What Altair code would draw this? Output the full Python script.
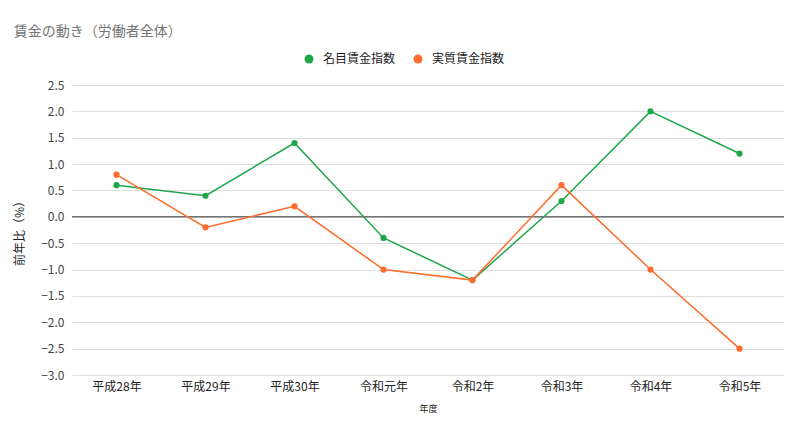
import altair as alt
import pandas as pd

years = ["平成28年", "平成29年", "平成30年", "令和元年", "令和2年", "令和3年", "令和4年", "令和5年"]
nominal = [0.6, 0.4, 1.4, -0.4, -1.2, 0.3, 2.0, 1.2]
real = [0.8, -0.2, 0.2, -1.0, -1.2, 0.6, -1.0, -2.5]
series_names = ["名目賃金指数", "実質賃金指数"]
colors = ["#1fa64b", "#ff6b2c"]
y_ticks = [2.5, 2.0, 1.5, 1.0, 0.5, 0.0, -0.5, -1.0, -1.5, -2.0, -2.5, -3.0]

rows = []
for i, yv in enumerate(years):
    rows.append({"年度": yv, "系列": series_names[0], "値": nominal[i], "o": 0})
    rows.append({"年度": yv, "系列": series_names[1], "値": real[i], "o": 1})
df = pd.DataFrame(rows)

FONT = "Noto Sans CJK JP"

x = alt.X("年度:N", sort=years, title="年度",
          scale=alt.Scale(paddingInner=0, paddingOuter=0.0, align=0.5),
          axis=alt.Axis(labelAngle=0, labelFontSize=12, labelColor="#222", labelPadding=6,
                        ticks=False, domain=False, titleFontSize=9, titleFontWeight="normal",
                        titleColor="#222", titlePadding=12, grid=False))
yscale = alt.Scale(domain=[-3.0, 2.5], nice=False, zero=False)
yaxis = alt.Axis(values=y_ticks, format=".1f", labelFontSize=12, labelColor="#444",
                 labelPadding=8, labelOverlap=False, ticks=False, domain=False,
                 gridColor="#dedede", gridWidth=1, titleFontSize=12,
                 titleFontWeight="normal", titleColor="#222", titlePadding=14)
y = alt.Y("値:Q", title="前年比（%）", scale=yscale, axis=yaxis)
color = alt.Color("系列:N", sort=series_names,
                  scale=alt.Scale(domain=series_names, range=colors),
                  legend=alt.Legend(title=None, orient="none", direction="horizontal",
                                    legendX=231, legendY=-32, symbolType="circle",
                                    symbolSize=80, symbolStrokeWidth=0, labelFontSize=12,
                                    labelColor="#222", columnPadding=16, labelOffset=8))

base = alt.Chart(df)
lines = base.mark_line(strokeWidth=1.5).encode(x=x, y=y, color=color, order="o:Q",
                                                  detail="系列:N")
points = base.mark_circle(size=38, opacity=1).encode(x=x, y=y, color=color)
zero = alt.Chart(pd.DataFrame({"z": [0.0]})).mark_rule(color="#333333", strokeWidth=1).encode(
    y=alt.Y("z:Q", title="前年比（%）", scale=yscale, axis=yaxis))

chart = alt.layer(zero, lines, points).properties(
    width=712, height=290,
    title=alt.TitleParams("賃金の動き（労働者全体）", anchor="start", fontSize=14,
                          fontWeight="normal", color="#757575", dx=0, offset=14, font=FONT),
    autosize=alt.AutoSizeParams(type="none"),
    padding={"left": 72, "top": 85, "right": 16, "bottom": 61},
).configure(font=FONT).configure_view(stroke=None)

chart.save("out.html", embed_options={"renderer": "svg", "actions": False})
